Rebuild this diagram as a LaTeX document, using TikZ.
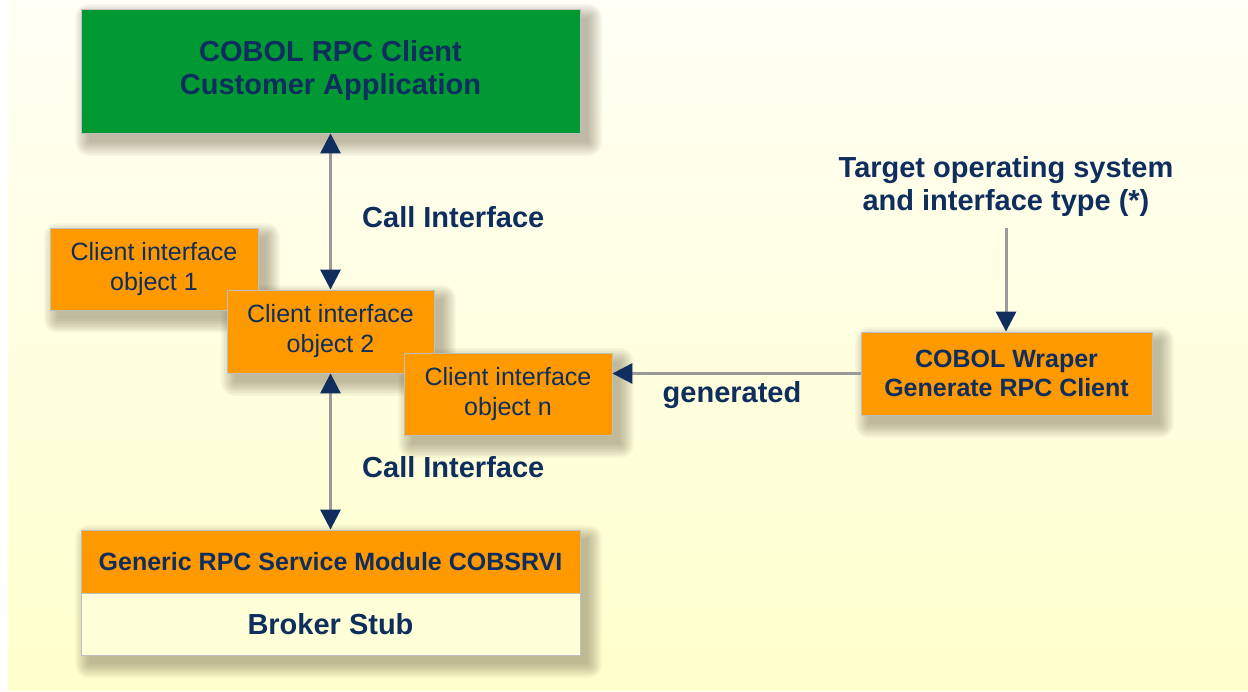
\documentclass[tikz,border=0pt]{standalone}
\usepackage{fontspec}
\setmainfont{Liberation Sans}
\usetikzlibrary{arrows.meta,backgrounds}
\definecolor{sagGreen}{HTML}{009933}
\definecolor{sagOrange}{HTML}{FF9900}
\definecolor{sagNavy}{HTML}{0F2E5E}
\definecolor{sagLine}{HTML}{9A9A9A}
\definecolor{bgTop}{HTML}{FFFFF5}
\definecolor{bgBot}{HTML}{FFFFCC}
\definecolor{stubFill}{HTML}{FFFFD8}
\definecolor{shadowCol}{HTML}{5A4A30}
\pgfdeclarelayer{bglayer}
\pgfdeclarelayer{shadowlayer}
\pgfsetlayers{bglayer,shadowlayer,main}
\newcommand\softshadow[2]{%
  \begin{pgfonlayer}{shadowlayer}
  \foreach \e in {0,1.5,...,13.5} {
    \fill[shadowCol, opacity=0.045, rounded corners=\e pt]
      ([xshift=8pt-\e pt, yshift=-9pt+\e pt]#1.north west) rectangle
      ([xshift=8pt+\e pt, yshift=-9pt-\e pt]#2.south east);
  }
  \end{pgfonlayer}}
\tikzset{
  box/.style={rectangle, draw=black!25, line width=0.8pt, align=center, text=sagNavy, inner sep=0pt},
  bigfont/.style={font=\fontsize{29}{33}\selectfont\bfseries},
  midbold/.style={font=\fontsize{25}{29}\selectfont\bfseries},
  objfont/.style={font=\fontsize{25}{30}\selectfont},
  objbox/.style={box, fill=sagOrange, objfont, minimum width=208pt, minimum height=82pt},
  lbl/.style={text=sagNavy, bigfont, inner sep=0pt},
  conn/.style={draw=sagLine, line width=3pt},
  tip/.style={-{Triangle[length=20pt,width=20pt,color=sagNavy]}},
  tips/.style={{Triangle[length=20pt,width=20pt,color=sagNavy]}-{Triangle[length=20pt,width=20pt,color=sagNavy]}}
}
\begin{document}
\begin{tikzpicture}[x=1pt,y=-1pt]
\useasboundingbox (0,0) rectangle (1248,692);
\begin{pgfonlayer}{bglayer}
\fill[white] (0,0) rectangle (1248,692);
\shade[top color=bgTop, bottom color=bgBot] (8,0) rectangle (1248,690);
\end{pgfonlayer}

\node[box, fill=sagGreen, bigfont, minimum width=499pt, minimum height=124pt] (app) at (330.5,71)
  {COBOL RPC Client\\Customer Application};

\node[objbox] (obj1) at (154,269) {Client interface\\object 1};
\node[objbox, minimum width=207pt, minimum height=83pt] (obj2) at (330.5,331.5) {Client interface\\object 2};
\node[objbox] (objn) at (508,394) {Client interface\\object n};

\node[box, fill=sagOrange, midbold, minimum width=499pt, minimum height=63pt] (gen) at (330.5,561.5)
  {Generic RPC Service Module COBSRVI};
\node[box, fill=stubFill, bigfont, minimum width=499pt, minimum height=62pt] (stub) at (330.5,624)
  {Broker Stub};

\node[box, fill=sagOrange, midbold, minimum width=291pt, minimum height=83pt] (wrap) at (1006.5,373.5)
  {COBOL Wraper\\Generate RPC Client};

\softshadow{app}{app}
\softshadow{obj1}{obj1}
\softshadow{obj2}{obj2}
\softshadow{objn}{objn}
\softshadow{gen}{stub}
\softshadow{wrap}{wrap}

\node[lbl, align=center] (target) at (1006,186.5) {Target operating system\\and interface type (*)};
\coordinate (tgtend) at (1006,228);

\node[lbl, anchor=west] (ci1) at (362,217) {Call Interface};
\node[lbl, anchor=west] (ci2) at (362,467) {Call Interface};
\node[lbl] (genlbl) at (732,395) {generated};

\draw[conn, tips] (app.south -| obj2.north) -- (obj2.north);
\draw[conn, tips] (obj2.south) -- (gen.north -| obj2.south);
\draw[conn, tip] (tgtend) -- (tgtend |- wrap.north);
\draw[conn, tip] (wrap.west) -- (wrap.west -| objn.east);
\end{tikzpicture}
\end{document}
